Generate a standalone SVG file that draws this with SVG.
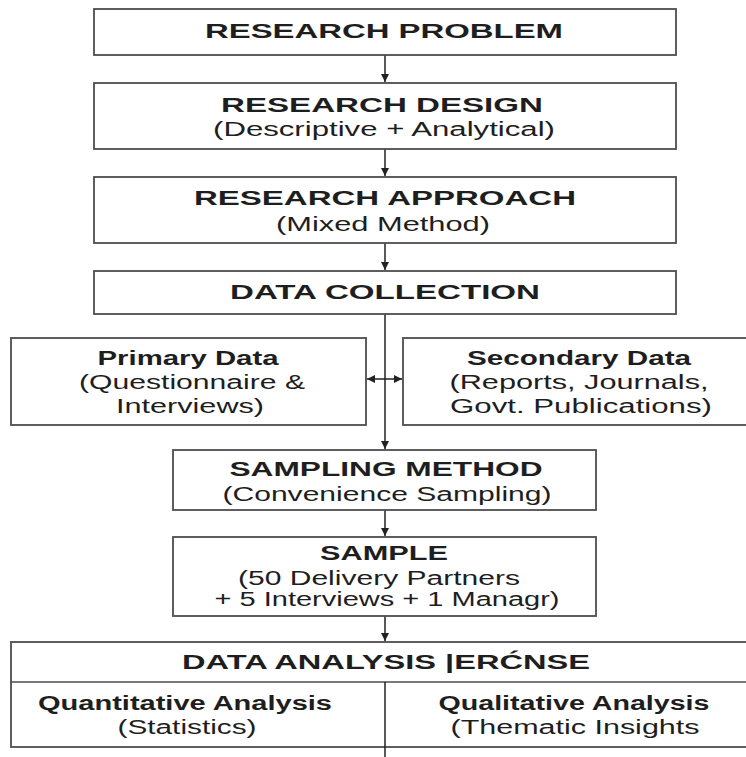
<svg xmlns="http://www.w3.org/2000/svg" width="746" height="757" viewBox="0 0 746 757">
<defs>
<marker id="ah" viewBox="0 0 10 10" refX="10" refY="5" markerWidth="8" markerHeight="8" markerUnits="userSpaceOnUse" orient="auto-start-reverse">
<path d="M0,0 L10,5 L0,10 z" fill="#222"/>
</marker>
<style>
.box{fill:#fff;stroke:#4d4d4d;stroke-width:1.8}
.ln{stroke:#4d4d4d;stroke-width:1.5;fill:none}
.con{stroke:#222;stroke-width:1.5;fill:none}
.h{font-family:"Liberation Sans",Arial,sans-serif;font-weight:bold;font-size:20.5px;fill:#1e1e1e;text-anchor:middle}
.s{font-family:"Liberation Sans",Arial,sans-serif;font-size:20px;fill:#1e1e1e;text-anchor:middle}
.hb{font-family:"Liberation Sans",Arial,sans-serif;font-weight:bold;font-size:20px;fill:#1e1e1e;text-anchor:middle}
</style>
</defs>
<rect width="746" height="757" fill="#fff"/>
<g id="connectors">
<line class="con" x1="385" y1="55" x2="385" y2="82" marker-end="url(#ah)"/>
<line class="con" x1="385" y1="149" x2="385" y2="176" marker-end="url(#ah)"/>
<line class="con" x1="385" y1="243" x2="385" y2="270" marker-end="url(#ah)"/>
<line class="con" x1="385" y1="314" x2="385" y2="449" marker-end="url(#ah)"/>
<line class="con" x1="367" y1="379" x2="402" y2="379" marker-start="url(#ah)" marker-end="url(#ah)"/>
<line class="con" x1="385" y1="510" x2="385" y2="536" marker-end="url(#ah)"/>
<line class="con" x1="385" y1="616" x2="385" y2="641" marker-end="url(#ah)"/>
</g>
<g id="research-problem">
<rect class="box" x="94" y="9" width="582" height="46"/>
<text class="h" x="384" y="38" textLength="358" lengthAdjust="spacingAndGlyphs">RESEARCH PROBLEM</text>
</g>
<g id="research-design">
<rect class="box" x="94" y="83" width="582" height="66"/>
<text class="h" x="382" y="112" textLength="322" lengthAdjust="spacingAndGlyphs">RESEARCH DESIGN</text>
<text class="s" x="384" y="136" textLength="342" lengthAdjust="spacingAndGlyphs">(Descriptive + Analytical)</text>
</g>
<g id="research-approach">
<rect class="box" x="94" y="177" width="582" height="66"/>
<text class="h" x="385" y="205" textLength="382" lengthAdjust="spacingAndGlyphs">RESEARCH APPROACH</text>
<text class="s" x="383" y="231" textLength="214" lengthAdjust="spacingAndGlyphs">(Mixed Method)</text>
</g>
<g id="data-collection">
<rect class="box" x="94" y="271" width="582" height="43"/>
<text class="h" x="385" y="299" textLength="310" lengthAdjust="spacingAndGlyphs">DATA COLLECTION</text>
</g>
<g id="primary-data">
<rect class="box" x="11" y="338" width="355" height="87"/>
<text class="hb" x="188" y="365" textLength="181" lengthAdjust="spacingAndGlyphs">Primary Data</text>
<text class="s" x="192" y="389" textLength="226" lengthAdjust="spacingAndGlyphs">(Questionnaire &amp;</text>
<text class="s" x="190" y="413" textLength="148" lengthAdjust="spacingAndGlyphs">Interviews)</text>
</g>
<g id="secondary-data">
<rect class="box" x="403" y="338" width="360" height="87"/>
<text class="hb" x="579" y="365" textLength="224" lengthAdjust="spacingAndGlyphs">Secondary Data</text>
<text class="s" x="579" y="389" textLength="259" lengthAdjust="spacingAndGlyphs">(Reports, Journals,</text>
<text class="s" x="581" y="413" textLength="262" lengthAdjust="spacingAndGlyphs">Govt. Publications)</text>
</g>
<g id="sampling-method">
<rect class="box" x="173" y="450" width="423" height="60"/>
<text class="h" x="386" y="476" textLength="313" lengthAdjust="spacingAndGlyphs">SAMPLING METHOD</text>
<text class="s" x="387" y="501" textLength="329" lengthAdjust="spacingAndGlyphs">(Convenience Sampling)</text>
</g>
<g id="sample">
<rect class="box" x="173" y="537" width="423" height="79"/>
<text class="h" x="384" y="560" textLength="128" lengthAdjust="spacingAndGlyphs">SAMPLE</text>
<text class="s" x="379" y="585" textLength="282" lengthAdjust="spacingAndGlyphs">(50 Delivery Partners</text>
<text class="s" x="387" y="606" textLength="345" lengthAdjust="spacingAndGlyphs">+ 5 Interviews + 1 Managr)</text>
</g>
<g id="data-analysis">
<rect class="box" x="11" y="642" width="752" height="105"/>
<line class="ln" x1="11" y1="682" x2="746" y2="682"/>
<line class="con" x1="385" y1="682" x2="385" y2="757"/>
<text class="h" x="386" y="669" textLength="408" lengthAdjust="spacingAndGlyphs">DATA ANALYSIS |ERĆNSE</text>
<text class="hb" x="185" y="710" textLength="294" lengthAdjust="spacingAndGlyphs">Quantitative Analysis</text>
<text class="s" x="187" y="734" textLength="139" lengthAdjust="spacingAndGlyphs">(Statistics)</text>
<text class="hb" x="574" y="710" textLength="271" lengthAdjust="spacingAndGlyphs">Qualitative Analysis</text>
<text class="s" x="575" y="734" textLength="249" lengthAdjust="spacingAndGlyphs">(Thematic Insights</text>
</g>
</svg>
